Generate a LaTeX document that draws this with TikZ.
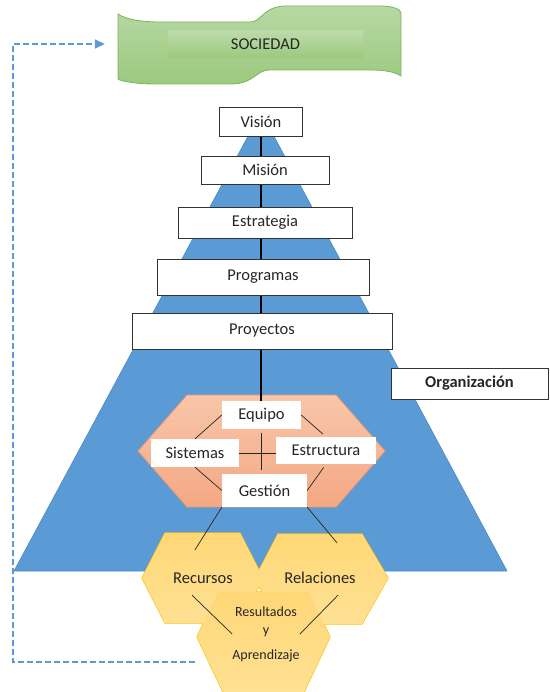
\documentclass[tikz,border=0pt]{standalone}
\usepackage{fontspec}
\setmainfont{Carlito}
\usetikzlibrary{arrows.meta,calc}

\definecolor{pyrblue}{RGB}{91,155,213}
\definecolor{pyredge}{RGB}{78,138,196}
\definecolor{socgreentop}{RGB}{183,216,163}
\definecolor{socgreenbot}{RGB}{156,201,127}
\definecolor{socgreenline}{RGB}{122,182,88}
\definecolor{salmontop}{RGB}{248,198,170}
\definecolor{salmonbot}{RGB}{244,168,131}
\definecolor{salmonline}{RGB}{238,150,108}
\definecolor{honeytop}{RGB}{255,215,118}
\definecolor{honeybot}{RGB}{255,225,148}
\definecolor{honeyline}{RGB}{255,192,0}
\definecolor{txtgray}{RGB}{38,38,38}

\pgfdeclarelayer{bg}
\pgfdeclarelayer{links}
\pgfsetlayers{bg,links,main}

\begin{document}
\begin{tikzpicture}[x=1pt,y=-1pt,%
% common options for the level boxes:
level/.style = {draw=black!80, line width=0.9pt, fill=white, align=center,
            inner sep=0, text=txtgray, font=\fontsize{16.5}{20}\selectfont},
% common options for the boxes in the core:
core/.style = {fill=white, inner sep=0, text=txtgray,
            font=\fontsize{16.5}{20}\selectfont},
% common options for the texts in the cells:
petal/.style = {inner sep=0, align=center, text=txtgray,
            font=\fontsize{16.5}{20}\selectfont},
honey/.style = {top color=honeytop, bottom color=honeybot, line width=1.2pt},
link/.style = {line width=0.7pt, black!85},
spine/.style = {line width=1.8pt, black},
feedback/.style = {pyrblue, line width=1.6pt, dash pattern=on 6pt off 3pt,
            -{Triangle[length=10pt,width=9pt]}}]
\useasboundingbox (0,0) rectangle (549,692);

\begin{pgfonlayer}{bg}
% pyramid
\path[fill=pyrblue, draw=pyredge, line width=0.6pt]
  (261,112) -- (507,571) -- (14,571) -- cycle;
% core
\path[top color=salmontop, bottom color=salmonbot, draw=salmonline, line width=0.8pt]
  (138,451) -- (187,395) -- (336,395) -- (385,451) -- (336,507) -- (187,507) -- cycle;
% cells
\foreach \edge in {honeyline,none} {
  \path[honey, draw=\edge]
    (142,578) -- (165,533) -- (240,533) -- (263,578) -- (240,623) -- (165,623) -- cycle;
  \path[honey, draw=\edge]
    (255,578) -- (278,534) -- (362,534) -- (388,578) -- (362,624) -- (278,624) -- cycle;
  \path[honey, draw=\edge]
    (197,637) -- (218,592) -- (309,592) -- (330,637) -- (304,692) -- (223,692) -- cycle;
}
\end{pgfonlayer}

% society banner
\path[top color=socgreentop, bottom color=socgreenbot, draw=socgreenline, line width=0.8pt]
  (118,14) .. controls (125,19) and (140,22) .. (160,22) -- (250,22)
  .. controls (262,22) and (262,7) .. (285,6) -- (380,6)
  .. controls (392,6) and (401,9) .. (401,13) -- (401,76)
  .. controls (395,72) and (385,70) .. (370,70) -- (270,70)
  .. controls (255,70) and (255,84) .. (230,84) -- (155,84)
  .. controls (135,84) and (120,81) .. (118,79) -- cycle;
\node[petal, minimum width=195pt, minimum height=27pt,
  top color=socgreentop!92!white, bottom color=socgreenbot] (sociedad) at (265.5,44) {SOCIEDAD};

\node[level, minimum width=83pt, minimum height=29pt] (vision) at (261,121.5) {Visión};
\node[level, minimum width=128pt, minimum height=28pt] (mision) at (265,170) {Misión};
\node[level, minimum width=174pt, minimum height=31pt] (estrategia) at (265,222.5) {Estrategia};
\node[level, minimum width=212pt, minimum height=36pt] (programas) at (263,277) {Programas};
\node[level, minimum width=260pt, minimum height=36pt] (proyectos) at (262,331) {Proyectos};
\node[level, minimum width=157pt, minimum height=31pt,
  font=\fontsize{16.5}{20}\selectfont\bfseries] (organizacion) at (469.5,383.5) {Organización};

\node[core, minimum width=79pt, minimum height=28pt] (equipo) at (261.5,415) {Equipo};
\node[core, minimum width=88pt, minimum height=28pt] (sistemas) at (195,453) {Sistemas};
\node[core, minimum width=100pt, minimum height=27pt] (estructura) at (326,450.5) {Estructura};
\node[core, minimum width=85pt, minimum height=33pt] (gestion) at (264.5,490.5) {Gestión};

\node[petal, minimum height=34pt] (recursos) at (203,578) {Recursos};
\node[petal, minimum height=34pt] (relaciones) at (320,578) {Relaciones};
\node[petal, font=\fontsize{14}{18}\selectfont] (resultados) at (266,634)
  {Resultados\\y\\[7pt]Aprendizaje};

\coordinate (loopstart) at (195,662);

\begin{pgfonlayer}{links}
\draw[spine] (vision.south) -- (vision.south |- equipo.north);
\draw[link] (equipo.west) -- (sistemas.north);
\draw[link, shorten >=4pt] (equipo.east) -- (estructura.north);
\draw[link] (sistemas.south) -- (gestion.west);
\draw[link, shorten <=4pt] (estructura.south) -- (gestion.east);
\draw[link, shorten <=4pt, shorten >=4pt] (equipo.south) -- (equipo.south |- gestion.north);
\draw[link] (sistemas.east) -- (sistemas.east -| estructura.west);
\draw[link] (gestion.south west) -- ($(recursos.north)+(-8,-11)$);
\draw[link] (gestion.south east) -- ($(relaciones.north)+(17,-18)$);
\draw[link] ($(recursos.south)+(-11,0)$) -- (resultados.west);
\draw[link] ($(relaciones.south)+(18,0)$) -- (resultados.east);
\draw[feedback, shorten >=63pt] (loopstart) -| ($(sociedad.west)+(-155,0)$) -- (sociedad.west);
\end{pgfonlayer}
\end{tikzpicture}
\end{document}
